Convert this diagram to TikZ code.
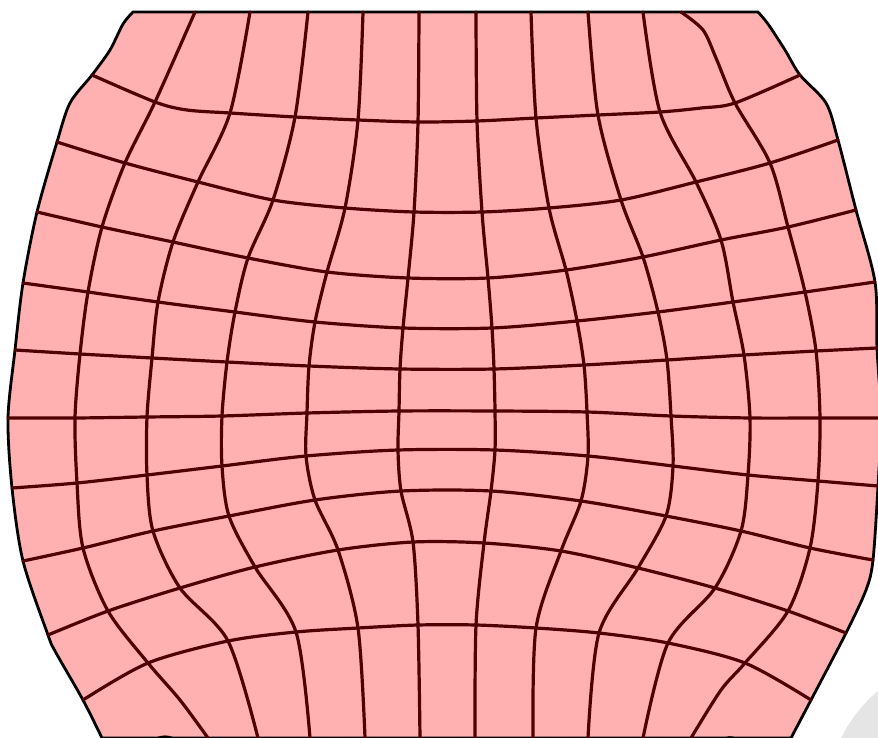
\documentclass[tikz,border=0pt]{standalone}
\usepackage{tikz}
\definecolor{meshfill}{RGB}{255,176,176}
\definecolor{meshline}{RGB}{78,0,2}
\begin{document}
\begin{tikzpicture}[x=1pt,y=-1pt,
  gridline/.style={draw=meshline,line width=3.2pt,line cap=round,line join=round},
  outline/.style={draw=black,line width=2.8pt,fill=meshfill,line join=round}]
\useasboundingbox (0,0) rectangle (878,738);
% faint grey disk (background)
\fill[black!10] (969,800) circle[radius=142];
% shape
\path[outline] plot[smooth,tension=0.5] coordinates {(133,12) (123,24) (110,50) (92,75) (70,103) (57,142) (37,212) (23,283) (15,350) (8,418) (12,488) (23,561) (48,635) (55,651) (83,700) (102,738)}
  -- (791,738)
  -- plot[smooth,tension=0.5] coordinates {(791,738) (811,700) (846,633) (866,590) (873,560) (878,486) (881,418) (877,348) (875,282) (856,210) (838,140) (826,103) (800,75) (785,50) (768,24) (758,12)}
  -- cycle;
% horizontal lines
\draw[gridline] plot[smooth] coordinates {(92,75) (155,102) (187,110) (230,113) (295,117) (358,120) (418,122) (477,121) (536,118) (598,115) (660,112) (701,108) (735,103) (800,75)};
\draw[gridline] plot[smooth] coordinates {(57,142) (125,163) (198,182) (273,200) (345,208) (414,212) (482,212) (549,208) (621,200) (696,182) (770,163) (838,140)};
\draw[gridline] plot[smooth] coordinates {(37,212) (102,227) (173,242) (248,258) (327,272) (408,278) (488,278) (566,270) (643,257) (721,240) (788,227) (856,210)};
\draw[gridline] plot[smooth] coordinates {(23,283) (88,292) (158,302) (235,312) (315,322) (403,328) (492,328) (577,321) (658,312) (733,302) (805,292) (875,282)};
\draw[gridline] plot[smooth] coordinates {(15,350) (80,354) (152,358) (227,362) (309,366) (400,369) (494,369) (584,365) (667,360) (744,355) (816,351) (877,348)};
\draw[gridline] plot[smooth] coordinates {(8,418) (75,418) (147,417) (222,416) (307,413) (399,411) (495,411) (587,412) (671,416) (750,418) (820,418) (881,418)};
\draw[gridline] plot[smooth] coordinates {(12,488) (77,483) (147,475) (222,466) (306,456) (398,450) (495,450) (588,456) (673,466) (748,475) (818,481) (878,486)};
\draw[gridline] plot[smooth] coordinates {(23,561) (83,548) (153,531) (229,516) (315,500) (401,491) (491,491) (581,501) (666,516) (741,531) (810,548) (873,560)};
\draw[gridline] plot[smooth] coordinates {(48,635) (108,611) (180,588) (255,567) (338,550) (413,542) (484,543) (561,551) (638,568) (715,588) (788,611) (846,633)};
\draw[gridline] plot[smooth] coordinates {(83,700) (148,663) (228,641) (296,632) (358,628) (418,625) (476,625) (536,628) (599,633) (668,643) (745,663) (811,700)};
% vertical lines
\draw[gridline] plot[smooth] coordinates {(195,12) (155,102) (125,163) (102,227) (88,292) (80,354) (75,418) (77,483) (83,548) (108,611) (148,663) (180,700) (208,738)};
\draw[gridline] plot[smooth] coordinates {(250,12) (230,113) (198,182) (173,242) (158,302) (152,358) (147,417) (147,475) (153,531) (180,588) (228,641) (258,738)};
\draw[gridline] plot[smooth] coordinates {(308,12) (295,117) (273,200) (248,258) (235,312) (227,362) (222,416) (222,466) (229,516) (255,567) (296,632) (310,738)};
\draw[gridline] plot[smooth] coordinates {(363,12) (358,120) (345,208) (327,272) (315,322) (309,366) (307,413) (306,456) (315,500) (338,550) (358,628) (365,738)};
\draw[gridline] plot[smooth] coordinates {(419,12) (418,122) (414,212) (408,278) (403,328) (400,369) (399,411) (398,450) (401,491) (413,542) (418,625) (420,738)};
\draw[gridline] plot[smooth] coordinates {(476,12) (477,121) (482,212) (488,278) (492,328) (494,369) (495,411) (495,450) (491,491) (484,543) (476,625) (475,738)};
\draw[gridline] plot[smooth] coordinates {(531,12) (536,118) (549,208) (566,270) (577,321) (584,365) (587,412) (588,456) (581,501) (561,551) (536,628) (533,738)};
\draw[gridline] plot[smooth] coordinates {(588,12) (598,115) (621,200) (643,257) (658,312) (667,360) (671,416) (673,466) (666,516) (638,568) (599,633) (588,738)};
\draw[gridline] plot[smooth] coordinates {(643,12) (660,112) (696,182) (721,240) (733,302) (744,355) (750,418) (748,475) (741,531) (715,588) (668,643) (643,738)};
\draw[gridline] plot[smooth] coordinates {(681,12) (703,30) (716,58) (735,103) (770,163) (788,227) (805,292) (816,351) (820,418) (818,481) (810,548) (788,611) (745,663) (721,690) (691,738)};
% small bumps on the bottom edge
\draw[black,line width=2.6pt] (152,742) .. controls (159,735) and (171,735) .. (178,742);
\draw[black,line width=2.6pt] (720,742) .. controls (725,736) and (734,736) .. (740,742);
\end{tikzpicture}
\end{document}
